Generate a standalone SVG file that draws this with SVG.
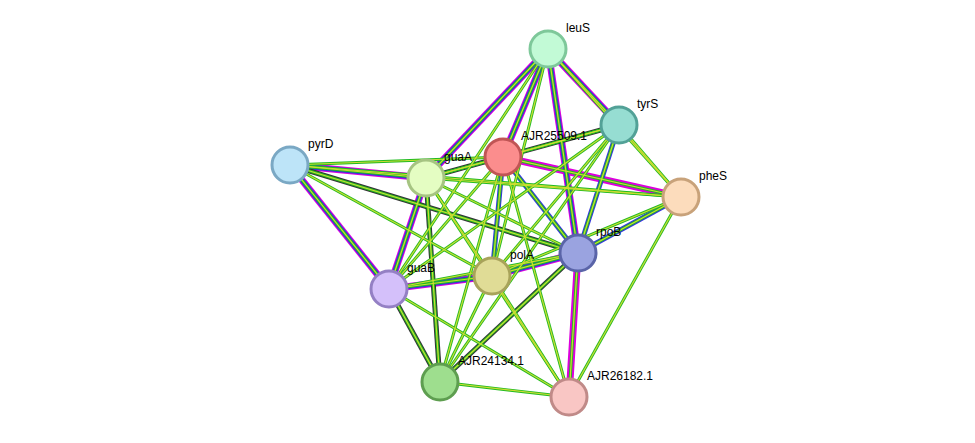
<svg xmlns="http://www.w3.org/2000/svg" xmlns:xlink="http://www.w3.org/1999/xlink" width="975" height="443" viewBox="0 0 975 443">
<style>
.m{stroke:#d0d;stroke-width:7;fill:none}
.b{stroke:#33d;stroke-width:5;fill:none}
.k{stroke:#333;stroke-width:5;fill:none}
.g{stroke:#2b2;stroke-width:3;fill:none}
.y{stroke:#cd3;stroke-width:1.2;fill:none}
.w{stroke:#fff;stroke-width:1;fill:none}
circle{stroke-width:3}
text{font-family:"Liberation Sans",Arial,sans-serif;font-size:12px;fill:#000}
</style>
<defs>
<line id="e1" x1="548" y1="49" x2="619" y2="125"/>
<line id="e2" x1="548" y1="49" x2="503" y2="157"/>
<line id="e3" x1="548" y1="49" x2="426" y2="178"/>
<line id="e4" x1="548" y1="49" x2="578" y2="253"/>
<line id="e5" x1="548" y1="49" x2="681" y2="197"/>
<line id="e6" x1="548" y1="49" x2="492" y2="276"/>
<line id="e7" x1="548" y1="49" x2="389" y2="289"/>
<line id="e8" x1="619" y1="125" x2="681" y2="197"/>
<line id="e9" x1="619" y1="125" x2="503" y2="157"/>
<line id="e10" x1="619" y1="125" x2="426" y2="178"/>
<line id="e11" x1="619" y1="125" x2="578" y2="253"/>
<line id="e12" x1="619" y1="125" x2="492" y2="276"/>
<line id="e13" x1="619" y1="125" x2="389" y2="289"/>
<line id="e14" x1="619" y1="125" x2="440" y2="382"/>
<line id="e15" x1="503" y1="157" x2="681" y2="197"/>
<line id="e16" x1="503" y1="157" x2="426" y2="178"/>
<line id="e17" x1="503" y1="157" x2="290" y2="165"/>
<line id="e18" x1="503" y1="157" x2="578" y2="253"/>
<line id="e19" x1="503" y1="157" x2="492" y2="276"/>
<line id="e20" x1="503" y1="157" x2="389" y2="289"/>
<line id="e21" x1="503" y1="157" x2="440" y2="382"/>
<line id="e22" x1="503" y1="157" x2="569" y2="397"/>
<line id="e23" x1="290" y1="165" x2="426" y2="178"/>
<line id="e24" x1="290" y1="165" x2="389" y2="289"/>
<line id="e25" x1="290" y1="165" x2="492" y2="276"/>
<line id="e26" x1="290" y1="165" x2="578" y2="253"/>
<line id="e27" x1="290" y1="165" x2="681" y2="197"/>
<line id="e28" x1="426" y1="178" x2="389" y2="289"/>
<line id="e29" x1="426" y1="178" x2="492" y2="276"/>
<line id="e30" x1="426" y1="178" x2="578" y2="253"/>
<line id="e31" x1="426" y1="178" x2="681" y2="197"/>
<line id="e32" x1="426" y1="178" x2="440" y2="382"/>
<line id="e33" x1="426" y1="178" x2="569" y2="397"/>
<line id="e34" x1="389" y1="289" x2="492" y2="276"/>
<line id="e35" x1="389" y1="289" x2="578" y2="253"/>
<line id="e36" x1="389" y1="289" x2="440" y2="382"/>
<line id="e37" x1="389" y1="289" x2="569" y2="397"/>
<line id="e38" x1="492" y1="276" x2="578" y2="253"/>
<line id="e39" x1="492" y1="276" x2="440" y2="382"/>
<line id="e40" x1="492" y1="276" x2="569" y2="397"/>
<line id="e41" x1="578" y1="253" x2="681" y2="197"/>
<line id="e42" x1="578" y1="253" x2="569" y2="397"/>
<line id="e43" x1="578" y1="253" x2="440" y2="382"/>
<line id="e44" x1="681" y1="197" x2="569" y2="397"/>
<line id="e45" x1="440" y1="382" x2="569" y2="397"/>
<line id="e46" x1="492" y1="276" x2="681" y2="197"/>
</defs>
<rect width="975" height="443" fill="#fff"/>
<g id="connectors">
<!-- multi-evidence edges -->
<use href="#e1" class="m"/><use href="#e2" class="m"/><use href="#e3" class="m"/><use href="#e23" class="m"/><use href="#e24" class="m"/><use href="#e28" class="m"/><use href="#e34" class="m"/><use href="#e38" class="m"/><use href="#e15" class="m"/><use href="#e42" class="m"/><use href="#e4" class="m"/>
<use href="#e1" class="b"/><use href="#e2" class="b"/><use href="#e4" class="b"/><use href="#e23" class="b"/><use href="#e24" class="b"/><use href="#e28" class="b"/><use href="#e34" class="b"/><use href="#e38" class="b"/><use href="#e41" class="b"/><use href="#e18" class="b"/><use href="#e19" class="b"/><use href="#e11" class="b"/><use href="#e3" class="b"/>
<use href="#e26" class="k"/><use href="#e43" class="k"/><use href="#e36" class="k"/><use href="#e32" class="k"/><use href="#e10" class="k"/>
<use href="#e1" class="w"/><use href="#e2" class="w"/><use href="#e4" class="w"/><use href="#e23" class="w"/><use href="#e24" class="w"/><use href="#e28" class="w"/><use href="#e34" class="w"/><use href="#e38" class="w"/>
<g class="g">
<use href="#e1"/><use href="#e2"/><use href="#e3"/><use href="#e4"/><use href="#e5"/><use href="#e6"/><use href="#e7"/><use href="#e8"/><use href="#e9"/><use href="#e10"/><use href="#e11"/><use href="#e12"/><use href="#e13"/><use href="#e14"/><use href="#e15"/><use href="#e16"/><use href="#e17"/><use href="#e18"/><use href="#e19"/><use href="#e20"/><use href="#e21"/><use href="#e22"/><use href="#e23"/><use href="#e24"/><use href="#e25"/><use href="#e26"/><use href="#e27"/><use href="#e28"/><use href="#e29"/><use href="#e30"/><use href="#e31"/><use href="#e32"/><use href="#e33"/><use href="#e34"/><use href="#e35"/><use href="#e36"/><use href="#e37"/><use href="#e38"/><use href="#e39"/><use href="#e40"/><use href="#e41"/><use href="#e42"/><use href="#e43"/><use href="#e44"/><use href="#e45"/><use href="#e46"/>
</g>
<g class="y">
<use href="#e1"/><use href="#e2"/><use href="#e3"/><use href="#e4"/><use href="#e5"/><use href="#e6"/><use href="#e7"/><use href="#e8"/><use href="#e9"/><use href="#e10"/><use href="#e11"/><use href="#e12"/><use href="#e13"/><use href="#e14"/><use href="#e15"/><use href="#e16"/><use href="#e17"/><use href="#e18"/><use href="#e19"/><use href="#e20"/><use href="#e21"/><use href="#e22"/><use href="#e23"/><use href="#e24"/><use href="#e25"/><use href="#e26"/><use href="#e27"/><use href="#e28"/><use href="#e29"/><use href="#e30"/><use href="#e31"/><use href="#e32"/><use href="#e33"/><use href="#e34"/><use href="#e35"/><use href="#e36"/><use href="#e37"/><use href="#e38"/><use href="#e39"/><use href="#e40"/><use href="#e41"/><use href="#e42"/><use href="#e43"/><use href="#e44"/><use href="#e45"/><use href="#e46"/>
</g>
</g>
<g id="leuS"><circle cx="548" cy="49" r="18" fill="#c2fad6" stroke="#7ec89a"/><text x="566" y="32">leuS</text></g>
<g id="tyrS"><circle cx="619" cy="125" r="18" fill="#96ddd2" stroke="#52a197"/><text x="637" y="108">tyrS</text></g>
<g id="AJR25509.1"><circle cx="503" cy="157" r="18" fill="#fb8d8d" stroke="#c05555"/><text x="521" y="140">AJR25509.1</text></g>
<g id="pyrD"><circle cx="290" cy="165" r="18" fill="#bde4f8" stroke="#7aa8c4"/><text x="308" y="148">pyrD</text></g>
<g id="guaA"><circle cx="426" cy="178" r="18" fill="#e4fdc2" stroke="#a6c482"/><text x="444" y="161">guaA</text></g>
<g id="pheS"><circle cx="681" cy="197" r="18" fill="#fcdcbc" stroke="#c8a27a"/><text x="699" y="180">pheS</text></g>
<g id="rpoB"><circle cx="578" cy="253" r="18" fill="#9aa3e0" stroke="#5a64a8"/><text x="596" y="236">rpoB</text></g>
<g id="polA"><circle cx="492" cy="276" r="18" fill="#e0dc96" stroke="#a8a35a"/><text x="510" y="259">polA</text></g>
<g id="guaB"><circle cx="389" cy="289" r="18" fill="#d4c0fa" stroke="#9480c4"/><text x="407" y="272">guaB</text></g>
<g id="AJR24134.1"><circle cx="440" cy="382" r="18" fill="#9ede8e" stroke="#5e9e50"/><text x="458" y="365">AJR24134.1</text></g>
<g id="AJR26182.1"><circle cx="569" cy="397" r="18" fill="#f9c6c4" stroke="#c08a88"/><text x="587" y="380">AJR26182.1</text></g>
</svg>
